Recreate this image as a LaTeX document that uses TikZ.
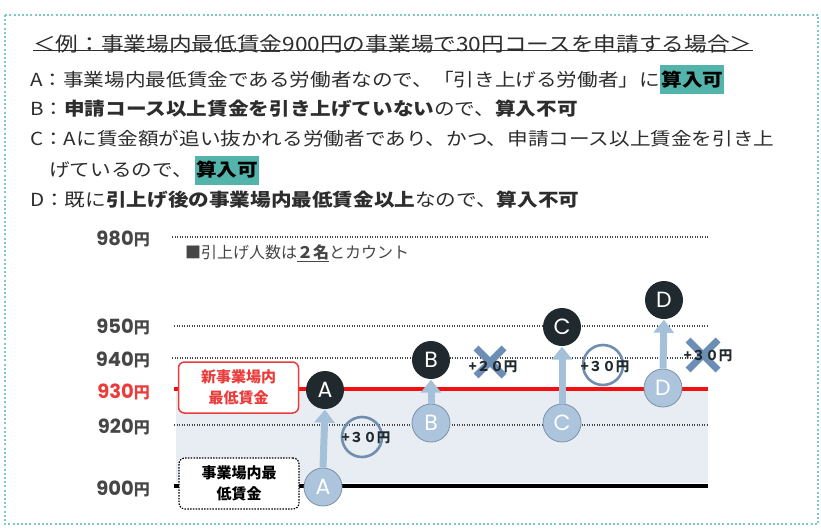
\documentclass[tikz,border=0pt]{standalone}
\usepackage{fontspec}
\setmainfont{Noto Sans CJK JP}
\newfontfamily\jp[FakeStretch=1.145]{Noto Sans CJK JP}
\newfontfamily\jpn{Noto Sans CJK JP}
\newfontfamily\pop{Poppins}
\newfontfamily\popl[Scale=1.22]{Poppins}
\usetikzlibrary{arrows.meta}
\definecolor{bordc}{RGB}{125,200,205}
\definecolor{hlc}{RGB}{82,180,170}
\definecolor{txt}{RGB}{45,45,45}
\definecolor{shadec}{RGB}{231,237,243}
\definecolor{darkc}{RGB}{32,42,46}
\definecolor{lightc}{RGB}{172,197,220}
\definecolor{lightb}{RGB}{125,145,165}
\definecolor{arrowc}{RGB}{165,193,218}
\definecolor{ringc}{RGB}{112,142,174}
\definecolor{xc}{RGB}{108,142,180}
\definecolor{redl}{RGB}{245,15,15}
\definecolor{redt}{RGB}{235,60,60}
\definecolor{labc}{RGB}{70,70,70}
\tikzset{
  line/.style={anchor=west, inner sep=0pt, text=txt, font=\jp\fontsize{18}{22}\selectfont},
  hlbox/.style={anchor=west, inner xsep=1pt, inner ysep=0pt, minimum height=29pt, fill=hlc, text=black, font=\jp\bfseries\fontsize{18}{22}\selectfont},
  ylab/.style={anchor=east, inner sep=0pt, text=labc, font=\jpn\bfseries\fontsize{16}{20}\selectfont},
  dotline/.style={draw=labc, line width=1.3pt, dash pattern=on 1.3pt off 1.2pt},
  darkcirc/.style={circle, fill=darkc, minimum size=38pt, inner sep=0pt, text=white, font=\pop\fontsize{22}{24}\selectfont},
  lightcirc/.style={circle, fill=lightc, draw=lightb, line width=0.8pt, minimum size=38pt, inner sep=0pt, text=white, font=\pop\fontsize{22}{24}\selectfont},
  upar/.style={draw=arrowc, line width=7pt, -{Triangle[width=20pt,length=13pt]}, shorten >=0.5pt},
  ring/.style={circle, draw=ringc, line width=2.6pt, minimum size=40pt, inner sep=0pt},
  plus/.style={inner sep=0pt, text=darkc, font=\jpn\bfseries\fontsize{13.5}{16}\selectfont},
  xmark/.style={draw=xc, line width=7pt},
  boxlab/.style={rounded corners=6pt, minimum width=120pt, minimum height=51pt, inner sep=0pt, fill=white, align=center, font=\jpn\bfseries\fontsize{15}{21}\selectfont}
}
\begin{document}
\begin{tikzpicture}[x=1pt,y=-1pt]
\useasboundingbox (0,0) rectangle (821,532);
\fill[white] (0,0) rectangle (821,532);
% outer dotted frame
\draw[bordc, line width=2pt, dash pattern=on 2pt off 2.2pt] (5,15) rectangle (818,524);

% title
\node[line, font=\jp\fontsize{19.8}{24}\selectfont] (title) at (33,44) {＜例：事業場内最低賃金900円の事業場で30円コースを申請する場合＞};
\draw[txt, line width=0.9pt] ([yshift=3pt]title.south west) -- ([yshift=3pt]title.south east);

% lines
\node[line] (a1) at (30,80) {A：事業場内最低賃金である労働者なので、「引き上げる労働者」に};
\node[hlbox] (a2) at (a1.east) {算入可};

\node[line] (b1) at (30,109) {B：{\bfseries 申請コース以上賃金を引き上げていない}ので、{\bfseries 算入不可}};

\node[line] (c1) at (30,139) {C：Aに賃金額が追い抜かれる労働者であり、かつ、申請コース以上賃金を引き上};
\node[line] (c2) at (49,170) {げているので、};
\node[hlbox] (c3) at ([xshift=2pt]c2.east) {算入可};

\node[line] (d1) at (30,200) {D：既に{\bfseries 引上げ後の事業場内最低賃金以上}なので、{\bfseries 算入不可}};

% chart background shading
\fill[shadec] (176,390) rectangle (708,483);

% axis labels
\node[ylab] (l980) at (150,239) {{\popl\bfseries 980}円};
\node[ylab] (l950) at (150,327) {{\popl\bfseries 950}円};
\node[ylab] (l940) at (150,360) {{\popl\bfseries 940}円};
\node[ylab, text=redt] (l930) at (150,392) {{\popl\bfseries 930}円};
\node[ylab] (l920) at (150,427) {{\popl\bfseries 920}円};
\node[ylab] (l900) at (150,489) {{\popl\bfseries 900}円};

% level lines
\draw[dotline] (172,237) -- (708,237);
\draw[dotline] (174,326) -- (708,326);
\draw[dotline] (172,358) -- (708,358);
\draw[dotline] (174,425) -- (708,425);
\draw[redl, line width=3.2pt] (174,389) -- (708,389);
\draw[black, line width=3.2pt] (174,486) -- (708,486);

% heading
\node[anchor=west, inner sep=0pt, text=labc, font=\jpn\fontsize{16}{19}\selectfont] (note) at (185,253) {■引上げ人数は\underline{\bfseries ２名}とカウント};

% label boxes
\node[boxlab, draw=redt, line width=1.5pt, text=redt] (newmin) at (238.5,387.5) {新事業場内\\最低賃金};
\node[boxlab, draw=black, line width=1.2pt, dash pattern=on 1.5pt off 1.3pt, text=black] (oldmin) at (239,483.5) {事業場内最\\低賃金};

% worker circles
\node[lightcirc] (Al) at (323,487) {A};
\node[darkcirc] (Ad) at (325,390) {A};
\node[lightcirc] (Bl) at (431,423) {B};
\node[darkcirc] (Bd) at (431,360) {B};
\node[lightcirc] (Cl) at (562,423) {C};
\node[darkcirc] (Cd) at (562,327) {C};
\node[lightcirc] (Dl) at (663,388) {D};
\node[darkcirc] (Dd) at (664,300) {D};

% raise arrows
\draw[upar] (Al.north) -- (Ad.south);
\draw[upar] (Bl.north) -- (Bd.south);
\draw[upar] (Cl.north) -- (Cd.south);
\draw[upar] (Dl.north) -- (Dd.south);

% rings, crosses and amounts
\node[ring] (ringA) at (362,437) {};
\node[plus] (pA) at (366,438) {+３０円};

\draw[xmark] (476,348) -- (504,376) (476,376) -- (504,348);
\coordinate (xB) at (490,362);
\node[plus] (pB) at (493,367) {+２０円};

\node[ring] (ringC) at (603,365) {};
\node[plus] (pC) at (605,367) {+３０円};

\draw[xmark] (688,340) -- (718,370) (688,370) -- (718,340);
\coordinate (xD) at (703,355);
\node[plus] (pD) at (708,356) {+３０円};
\end{tikzpicture}
\end{document}
